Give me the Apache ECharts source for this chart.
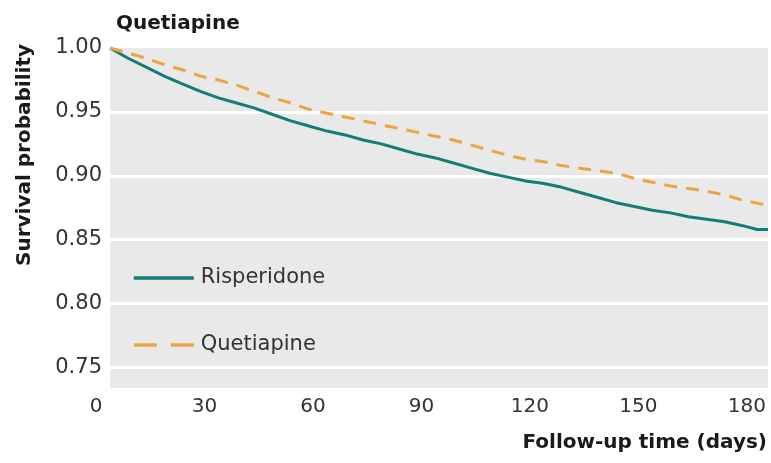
<!DOCTYPE html>
<html>
<head>
<meta charset="utf-8">
<script src="https://cdn.jsdelivr.net/npm/echarts@6/dist/echarts.min.js"></script>
<style>html,body{margin:0;padding:0;background:#fff}#c{width:771px;height:463px}</style>
</head>
<body>
<div id="c"></div>
<script>
var xTicks = [0, 30, 60, 90, 120, 150, 180];
var yTicks = [0.75, 0.80, 0.85, 0.90, 0.95, 1.00];
var risDays = [0,5,10,15,20,25,30,35,40,45,50,55,60,65,70,75,80,85,90,95,100,105,110,115,120,125,130,135,140,145,150,155,160,165,170,175,179,182];
var risSurv = [1.000,0.992,0.985,0.978,0.972,0.966,0.961,0.957,0.953,0.948,0.943,0.939,0.935,0.932,0.928,0.925,0.921,0.917,0.914,0.910,0.906,0.902,0.899,0.896,0.894,0.891,0.887,0.883,0.879,0.876,0.873,0.871,0.868,0.866,0.864,0.861,0.858,0.858];
var queDays = [0,5,10,15,20,25,30,35,40,45,50,55,60,65,70,75,80,85,90,95,100,105,110,115,120,125,130,135,140,145,150,155,160,165,170,175,180,182];
var queSurv = [1.000,0.996,0.992,0.987,0.983,0.978,0.975,0.971,0.966,0.961,0.957,0.952,0.949,0.946,0.943,0.940,0.937,0.934,0.931,0.928,0.924,0.920,0.916,0.913,0.911,0.908,0.906,0.904,0.902,0.898,0.895,0.892,0.890,0.888,0.885,0.881,0.878,0.877];

function pairs(xs, ys){ return xs.map(function(x,i){ return [x, ys[i]]; }); }

var FONT = 'DejaVu Sans';
var TEAL = '#137d78', ORANGE = '#eaa540';
var chart = echarts.init(document.getElementById('c'));
chart.setOption({
  animation: false,
  backgroundColor: '#ffffff',
  title: {
    text: 'Quetiapine', left: 111, top: 9,
    textStyle: { fontFamily: FONT, fontWeight: 'bold', fontSize: 20, color: '#1a1a1a' }
  },
  grid: {
    left: 110, right: 3, top: 48, bottom: 75, show: true,
    backgroundColor: '#e9e9e9', borderWidth: 0
  },
  legend: {
    orient: 'vertical', left: 127, top: 261,
    itemWidth: 60, itemHeight: 14, itemGap: 43,
    textStyle: { fontFamily: FONT, fontSize: 21, color: '#333', lineHeight: 24, padding: [0,0,0,2] },
    data: [
      { name: 'Risperidone', itemStyle: { opacity: 0 }, lineStyle: { color: TEAL, width: 3.5, type: 'solid' } },
      { name: 'Quetiapine', itemStyle: { opacity: 0 }, lineStyle: { color: ORANGE, width: 3.5, type: [23, 14] } }
    ]
  },
  xAxis: {
    type: 'value', min: 0, max: 182, interval: 30,
    axisLine: { show: false }, axisTick: { show: false }, splitLine: { show: false },
    axisLabel: {
      showMaxLabel: false, margin: 9,
      fontFamily: FONT, fontSize: 20, color: '#333', padding: [0, 28, 0, 0],
      formatter: function(v){ return xTicks.indexOf(v) >= 0 ? String(v) : ''; }
    }
  },
  yAxis: {
    type: 'value', min: 0.734, max: 1.0, splitNumber: 5,
    axisLine: { show: false }, axisTick: { show: false },
    splitLine: { show: true, showMinLine: false, showMaxLine: false, lineStyle: { color: '#ffffff', width: 3 } },
    axisLabel: {
      showMinLabel: false, margin: 8,
      fontFamily: FONT, fontSize: 21, color: '#333',
      formatter: function(v){
        var r = Math.round(v*100)/100;
        return yTicks.some(function(t){ return Math.abs(t - v) < 1e-6; }) ? r.toFixed(2) : '';
      }
    }
  },
  graphic: [
    { type: 'text', x: 25, y: 155, rotation: Math.PI/2,
      style: { text: 'Survival probability', x: 0, y: 0, textAlign: 'center', textVerticalAlign: 'middle',
        font: 'bold 20px "DejaVu Sans"', fill: '#1a1a1a' } },
    { type: 'text', x: 767, y: 443,
      style: { text: 'Follow-up time (days)', x: 0, y: 0, textAlign: 'right', textVerticalAlign: 'middle',
        font: 'bold 20px "DejaVu Sans"', fill: '#1a1a1a' } }
  ],
  series: [
    { name: 'Risperidone', type: 'line', data: pairs(risDays, risSurv), showSymbol: false, symbol: 'none',
      lineStyle: { color: TEAL, width: 3 }, itemStyle: { color: TEAL } },
    { name: 'Quetiapine', type: 'line', data: pairs(queDays, queSurv), showSymbol: false, symbol: 'none',
      lineStyle: { color: ORANGE, width: 3, type: [13, 9] }, itemStyle: { color: ORANGE } }
  ]
});
</script>
</body>
</html>
